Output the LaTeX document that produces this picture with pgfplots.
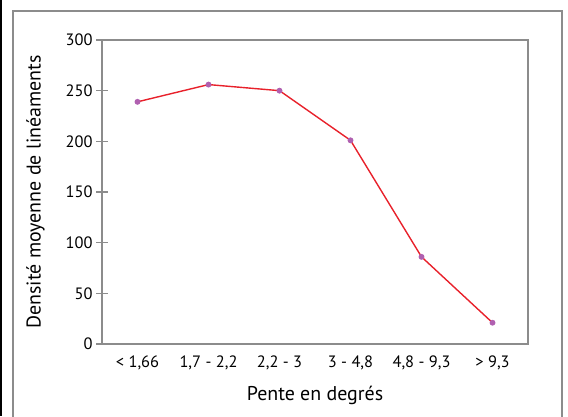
\documentclass[border=0pt]{standalone}
\usepackage{pgfplots}
\pgfplotsset{compat=1.18}
\usepackage{fontspec}
\setmainfont{PT Sans}
\definecolor{axisgray}{HTML}{8C8C8C}
\definecolor{linered}{HTML}{E8212B}
\definecolor{markpurple}{HTML}{B060B0}
\begin{document}
\begin{tikzpicture}[x=1bp,y=1bp]
\useasboundingbox (0,0) rectangle (568,416);
\fill[black] (0,0) rectangle (1.5,416);
\draw[axisgray, line width=1.6bp] (13,-10) -- (13,405) -- (562,405) -- (562,-10);
\begin{axis}[
  at={(102bp,72bp)}, anchor=south west,
  scale only axis, width=426bp, height=304bp,
  xmin=-0.5, xmax=5.5, ymin=0, ymax=300,
  xtick={0,...,5},
  xticklabels={{< 1,66},{1,7 - 2,2},{2,2 - 3},{3 - 4,8},{4,8 - 9,3},{> 9,3}},
  minor xtick={-0.5,0.5,...,5.5},
  ytick={0,50,...,300},
  xtick pos=bottom, ytick pos=left,
  axis line style={axisgray, line width=1.6bp},
  every tick/.style={axisgray, line width=1.2bp},
  tick align=center,
  major tick length=12bp,
  minor tick length=12bp,
  xtick style={draw=none},
  x tick label style={yshift=-2bp},
  tick label style={font=\fontsize{16.5}{18}\selectfont},
  /pgf/number format/assume math mode=true,
  label style={font=\fontsize{20}{22}\selectfont},
  xlabel={Pente en degrés},
  ylabel={Densité moyenne de linéaments},
  ylabel style={yshift=14bp},
  xlabel style={yshift=-10bp},
]
\addplot[linered, line width=1.4bp, mark=*, mark size=2.2bp,
  mark options={draw=markpurple, fill=markpurple}]
  coordinates {(0,239) (1,256) (2,250) (3,201) (4,86) (5,21)};
\end{axis}
\end{tikzpicture}
\end{document}
